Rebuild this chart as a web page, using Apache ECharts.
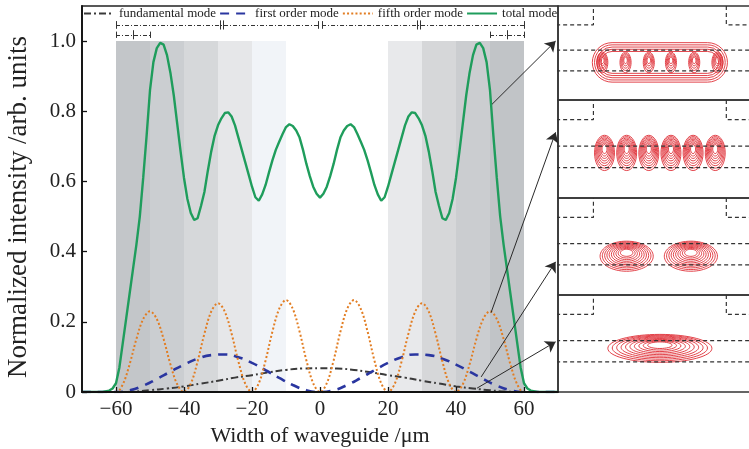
<!DOCTYPE html>
<html>
<head>
    <meta charset="utf-8">
    <script src="https://cdn.jsdelivr.net/npm/echarts@6/dist/echarts.min.js"></script>
</head>
<body style="margin:0;background:#fff">
<div id="main" style="width:749px;height:449px;"></div>
<script>
    // axis ticks
    var xTicks = [-60, -40, -20, 0, 20, 40, 60];
    var yTicks = [0, 0.2, 0.4, 0.6, 0.8, 1.0];

    // total mode (green)
    var totalX = [-70, -64, -62, -61, -60, -59, -58, -57, -56, -55, -54, -53, -52, -51, -50, -49, -48, -47, -46, -45,
        -44, -43, -42, -41, -40, -39, -38, -37, -36, -35, -34, -33, -32, -31, -30, -29, -28, -27, -26, -25,
        -24, -23, -22, -21, -20, -19, -18, -17, -16, -15, -14, -13, -12, -11, -10, -9, -8, -7, -6, -5,
        -4, -3, -2, -1, 0, 1, 2, 3, 4, 5, 6, 7, 8, 9, 10, 11, 12, 13, 14, 15,
        16, 17, 18, 19, 20, 21, 22, 23, 24, 25, 26, 27, 28, 29, 30, 31, 32, 33, 34, 35,
        36, 37, 38, 39, 40, 41, 42, 43, 44, 45, 46, 47, 48, 49, 50, 51, 52, 53, 54, 55,
        56, 57, 58, 59, 60, 61, 62, 64, 70];
    var totalY = [0, 0, 0.004, 0.01, 0.025, 0.07, 0.14, 0.21, 0.28, 0.35, 0.42, 0.5, 0.61, 0.73, 0.86, 0.94, 0.98, 0.995, 0.99, 0.96,
        0.91, 0.845, 0.765, 0.685, 0.61, 0.55, 0.51, 0.49, 0.495, 0.53, 0.57, 0.63, 0.685, 0.73, 0.76, 0.78, 0.795, 0.797, 0.785, 0.76,
        0.725, 0.69, 0.655, 0.62, 0.585, 0.555, 0.545, 0.563, 0.59, 0.626, 0.66, 0.69, 0.713, 0.735, 0.755, 0.763, 0.758, 0.745, 0.725, 0.69,
        0.65, 0.615, 0.585, 0.565, 0.554, 0.565, 0.585, 0.615, 0.65, 0.69, 0.725, 0.745, 0.758, 0.763, 0.755, 0.735, 0.713, 0.69, 0.66, 0.626,
        0.59, 0.563, 0.545, 0.555, 0.585, 0.62, 0.655, 0.69, 0.725, 0.76, 0.785, 0.797, 0.795, 0.78, 0.76, 0.73, 0.685, 0.63, 0.57, 0.53,
        0.495, 0.49, 0.51, 0.55, 0.61, 0.685, 0.765, 0.845, 0.91, 0.96, 0.99, 0.995, 0.98, 0.94, 0.86, 0.73, 0.61, 0.5, 0.42, 0.35,
        0.28, 0.21, 0.14, 0.07, 0.025, 0.01, 0.004, 0, 0];

    // fifth order mode (orange dotted)
    var fifthX = [-70, -60, -58, -56, -54, -52, -50, -48, -46, -44, -42, -40, -38, -36, -34, -32, -30, -28, -26, -24, -22,
        -20, -18, -16, -14, -12, -10, -8, -6, -4, -2, 0, 2, 4, 6, 8, 10, 12, 14, 16, 18,
        20, 22, 24, 26, 28, 30, 32, 34, 36, 38, 40, 42, 44, 46, 48, 50, 52, 54, 56, 58, 60, 70];
    var fifthY = [0, 0, 0.022, 0.079, 0.151, 0.208, 0.23, 0.208, 0.151, 0.079, 0.022, 0, 0.024, 0.087, 0.166, 0.229, 0.253, 0.229, 0.166, 0.087, 0.024,
        0, 0.025, 0.09, 0.172, 0.237, 0.262, 0.237, 0.172, 0.09, 0.025, 0, 0.025, 0.09, 0.172, 0.237, 0.262, 0.237, 0.172, 0.09, 0.025,
        0, 0.024, 0.087, 0.166, 0.229, 0.253, 0.229, 0.166, 0.087, 0.024, 0, 0.022, 0.079, 0.151, 0.208, 0.23, 0.208, 0.151, 0.079, 0.022, 0, 0];

    // first order mode (blue dashed)
    var firstX = [-70, -60, -56, -52, -48, -44, -40, -36, -32, -28, -24, -20, -16, -12, -8, -4, 0,
        4, 8, 12, 16, 20, 24, 28, 32, 36, 40, 44, 48, 52, 56, 60, 70];
    var firstY = [0, 0, 0.005, 0.018, 0.037, 0.058, 0.078, 0.095, 0.105, 0.107, 0.099, 0.083, 0.062, 0.04, 0.02, 0.005, 0,
        0.005, 0.02, 0.04, 0.062, 0.083, 0.099, 0.107, 0.105, 0.095, 0.078, 0.058, 0.037, 0.018, 0.005, 0, 0];

    // fundamental mode (black dash-dot)
    var fundX = [-70, -60, -55, -50, -45, -40, -35, -30, -25, -20, -15, -10, -5, 0, 5, 10, 15, 20, 25, 30, 35, 40, 45, 50, 55, 60, 70];
    var fundY = [0, 0, 0.001, 0.005, 0.01, 0.016, 0.024, 0.032, 0.041, 0.048, 0.056, 0.063, 0.067, 0.068,
        0.067, 0.063, 0.056, 0.048, 0.041, 0.032, 0.024, 0.016, 0.01, 0.005, 0.001, 0, 0];

    // grey bands behind the curves (x ranges)
    var bandEdges = [[-60, -50], [-50, -40], [-40, -30], [-30, -20], [-20, -10], [20, 30], [30, 40], [40, 50], [50, 60]];
    var bandShades = ['#c3c6c9', '#cbced1', '#d6d8da', '#e6e7e9', '#f1f4f8', '#e8e9eb', '#d6d7d9', '#cbcdd0', '#c1c4c7'];

    // width markers above the plot: [x1, x2, y] and ticks [x, y, half height]
    var markerSegs = [[-60, -0.6, 1.046], [0.6, 60, 1.046], [-60, -50, 1.018], [50, 60, 1.018]];
    var markerTicks = [[-60, 1.046, 0.011], [-0.6, 1.046, 0.011], [0.6, 1.046, 0.011], [60, 1.046, 0.011],
        [-29.4, 1.046, 0.013], [-28.6, 1.046, 0.013], [28.6, 1.046, 0.013], [29.4, 1.046, 0.013],
        [-60, 1.018, 0.009], [-55, 1.018, 0.013], [-50, 1.018, 0.009], [50, 1.018, 0.009], [55, 1.018, 0.013], [60, 1.018, 0.009]];

    // arrows from curves to the field plots
    var arrows = [[[50.6, 0.82], [69.3, 1.0]], [[50.3, 0.226], [69.3, 0.74]],
        [[47.4, 0.043], [69.3, 0.371]], [[46.2, 0.011], [69.3, 0.143]]];

    // field plots: ridge step and core layers (inset coordinates)
    var ridgeLeft = [[-100, 0.8], [-60, 0.8], [-60, 1]];
    var ridgeRight = [[60, 1], [60, 0.8], [100, 0.8]];
    var coreLines = [0.53, 0.31];

    // contour lobes: [x centre, y centre, half width, half height]
    var lobesTotal = [[0, 0.40, 61, 0.21]];
    var lobesTotalCores = [[-52, 0.40, 5, 0.11], [-31, 0.40, 5, 0.11], [-10, 0.40, 5, 0.11],
        [10, 0.40, 5, 0.11], [31, 0.40, 5, 0.11], [52, 0.40, 5, 0.11]];
    var lobesFifth = [[-50, 0.46, 9, 0.18], [-30, 0.46, 9, 0.18], [-10, 0.46, 9, 0.18],
        [10, 0.46, 9, 0.18], [30, 0.46, 9, 0.18], [50, 0.46, 9, 0.18]];
    var lobesFirst = [[-30, 0.40, 24, 0.155], [28, 0.40, 24, 0.155]];
    var lobesFund = [[0, 0.45, 47, 0.144]];

    var serif = 'Liberation Serif';
    var red = '#df2e36';

    function lobeRenderer(rings, stadium) {
        return function (params, api) {
            var c = api.coord([api.value(0), api.value(1)]);
            var s = api.size([api.value(2), api.value(3)]);
            var kids = [];
            for (var i = 0; i < rings; i++) {
                var t = i / rings;
                var st = {fill: null, stroke: red, lineWidth: 0.9};
                if (stadium) {
                    var rx = s[0] - i * 2.2, ry = s[1] - i * 2.2;
                    kids.push({type: 'rect', shape: {x: c[0] - rx, y: c[1] - ry, width: rx * 2, height: ry * 2, r: ry}, style: st});
                } else {
                    kids.push({type: 'ellipse', shape: {cx: c[0], cy: c[1] - s[1] * 0.25 * t,
                        rx: s[0] * (1 - 0.85 * t), ry: s[1] * (1 - 0.85 * t)}, style: st});
                }
            }
            return {type: 'group', children: kids};
        };
    }

    function pairs(xs, ys) {
        return xs.map(function (x, i) { return [x, ys[i]]; });
    }

    var chart = echarts.init(document.getElementById('main'));

    var insetTops = [6, 100, 198, 295];
    var insetHeights = [94, 98, 97, 97];
    var grids = [{left: 82, right: 191, top: 6, bottom: 57, outerBoundsMode: 'none',
        show: true, borderColor: '#222', borderWidth: 1.5}];
    var xAxes = [{
        type: 'value', min: -70, max: 70, gridIndex: 0, z: 8,
        name: 'Width of waveguide /\u03bcm', nameLocation: 'middle', nameGap: 33,
        nameTextStyle: {fontFamily: serif, fontSize: 22, color: '#222'},
        axisLine: {onZero: false, lineStyle: {color: '#111', width: 1.8}},
        axisTick: {inside: true, length: 5, customValues: xTicks, lineStyle: {color: '#111', width: 1.3}},
        axisLabel: {customValues: xTicks, margin: 7, fontFamily: serif, fontSize: 21, color: '#222',
            formatter: function (v) { return String(v).replace('-', '\u2212'); }},
        splitLine: {show: false}
    }];
    var yAxes = [{
        type: 'value', min: 0, max: 1.1, gridIndex: 0, z: 8,
        name: 'Normalized intensity /arb. units', nameLocation: 'middle', nameGap: 50,
        nameTextStyle: {fontFamily: serif, fontSize: 27, color: '#222', padding: [0, 16, 0, 0]},
        axisLine: {onZero: false, lineStyle: {color: '#111', width: 1.8}},
        axisTick: {inside: true, length: 5, customValues: yTicks, lineStyle: {color: '#111', width: 1.3}},
        axisLabel: {customValues: yTicks, margin: 6, fontFamily: serif, fontSize: 21, color: '#222',
            formatter: function (v) { return v === 0 ? '0' : v.toFixed(1); }},
        splitLine: {show: false}
    }];
    insetTops.forEach(function (t, i) {
        grids.push({left: 558, right: -5, top: t, height: insetHeights[i], outerBoundsMode: 'none',
            show: true, borderColor: '#333', borderWidth: 1.3});
        xAxes.push({type: 'value', gridIndex: i + 1, min: -92, max: 85, show: false});
        yAxes.push({type: 'value', gridIndex: i + 1, min: 0, max: 1, show: false});
    });

    var series = [
        {
            name: 'bands', type: 'line', data: [], z: 1, silent: true,
            markArea: {
                silent: true,
                data: bandEdges.map(function (b, i) {
                    return [{xAxis: b[0], yAxis: 0, itemStyle: {color: bandShades[i]}}, {xAxis: b[1], yAxis: 1.0}];
                })
            }
        },
        {
            name: 'fundamental mode', type: 'line', data: pairs(fundX, fundY), smooth: true, symbol: 'none',
            lineStyle: {color: '#3a3a3a', width: 2, type: [7, 3, 2, 3]}, itemStyle: {color: '#3a3a3a'}, z: 3
        },
        {
            name: 'first order mode', type: 'line', data: pairs(firstX, firstY), smooth: true, symbol: 'none',
            lineStyle: {color: '#2a36a0', width: 2.6, type: [9, 7]}, itemStyle: {color: '#2a36a0'}, z: 3
        },
        {
            name: 'fifth order mode', type: 'line', data: pairs(fifthX, fifthY), smooth: 0.35, symbol: 'none',
            lineStyle: {color: '#e27d22', width: 2, type: [2, 2.2]}, itemStyle: {color: '#e27d22'}, z: 3
        },
        {
            name: 'total mode', type: 'line', data: pairs(totalX, totalY), symbol: 'none',
            lineStyle: {color: '#1f9d5c', width: 2.4}, itemStyle: {color: '#1f9d5c'}, z: 4
        },
        {
            name: 'markers', type: 'line', data: [], z: 5, silent: true,
            markLine: {
                silent: true, symbol: 'none', label: {show: false},
                lineStyle: {color: '#333', width: 1, type: 'solid'},
                data: markerSegs.map(function (s) {
                    return [{coord: [s[0], s[2]], lineStyle: {type: [4, 2, 1, 2]}}, {coord: [s[1], s[2]]}];
                }).concat(markerTicks.map(function (k) {
                    return [{coord: [k[0], k[1] - k[2]]}, {coord: [k[0], k[1] + k[2]]}];
                }))
            }
        },
        {
            name: 'arrows', type: 'line', data: [], z: 6, silent: true,
            markLine: {
                silent: true, symbol: ['none', 'arrow'], symbolSize: 10, label: {show: false},
                lineStyle: {color: '#2a2a2a', width: 1, type: 'solid'},
                data: arrows.map(function (a) { return [{coord: a[0]}, {coord: a[1]}]; })
            }
        }
    ];

    var dashed = {color: '#333', width: 1.2, type: [4, 3]};
    for (var p = 1; p <= 4; p++) {
        series.push({type: 'line', xAxisIndex: p, yAxisIndex: p, data: ridgeLeft, symbol: 'none', lineStyle: dashed, silent: true});
        series.push({type: 'line', xAxisIndex: p, yAxisIndex: p, data: ridgeRight, symbol: 'none', lineStyle: dashed, silent: true});
        coreLines.forEach(function (y) {
            series.push({type: 'line', xAxisIndex: p, yAxisIndex: p, data: [[-100, y], [100, y]], symbol: 'none', lineStyle: dashed, silent: true});
        });
    }
    series.push({type: 'custom', xAxisIndex: 1, yAxisIndex: 1, data: lobesTotal, renderItem: lobeRenderer(5, true), silent: true, z: 3});
    series.push({type: 'custom', xAxisIndex: 1, yAxisIndex: 1, data: lobesTotalCores, renderItem: lobeRenderer(5, false), silent: true, z: 3});
    series.push({type: 'custom', xAxisIndex: 2, yAxisIndex: 2, data: lobesFifth, renderItem: lobeRenderer(8, false), silent: true, z: 3});
    series.push({type: 'custom', xAxisIndex: 3, yAxisIndex: 3, data: lobesFirst, renderItem: lobeRenderer(10, false), silent: true, z: 3});
    series.push({type: 'custom', xAxisIndex: 4, yAxisIndex: 4, data: lobesFund, renderItem: lobeRenderer(10, false), silent: true, z: 3});

    var option = {
        animation: false,
        backgroundColor: '#fff',
        legend: {
            data: ['fundamental mode', 'first order mode', 'fifth order mode', 'total mode'],
            left: 83, top: 7, padding: 0, itemWidth: 30, itemHeight: 12, itemGap: 3,
            itemStyle: {opacity: 0},
            textStyle: {fontFamily: serif, fontSize: 13, color: '#222'}
        },
        grid: grids,
        xAxis: xAxes,
        yAxis: yAxes,
        series: series
    };
    chart.setOption(option);
</script>
</body>
</html>
